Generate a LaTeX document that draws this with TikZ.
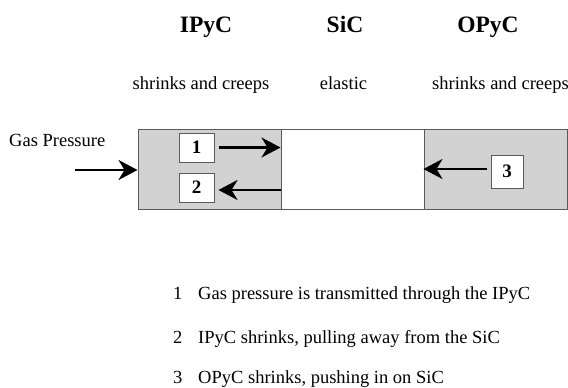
\documentclass[tikz,border=0pt]{standalone}
\usepackage{fontspec}
\setmainfont{Liberation Serif}
\usepackage{tikz}
\usetikzlibrary{arrows.meta}
\definecolor{lygray}{HTML}{D2D2D2}
\definecolor{lyedge}{HTML}{5A5A5A}
\tikzset{
  layer/.style={draw=lyedge,fill=lygray,line width=1pt,minimum width=143pt,
                minimum height=80pt,inner sep=0pt},
  numbox/.style={draw=lyedge,fill=white,line width=1pt,minimum width=35pt,
                 minimum height=29pt,inner sep=0pt,font=\fontsize{19}{22}\selectfont\bfseries},
  push/.style={-{Stealth[length=19pt,width=20pt,inset=6pt]},line width=2.2pt},
  head/.style={font=\fontsize{23.5}{28}\selectfont\bfseries,anchor=base,inner sep=0pt},
  sub/.style={font=\fontsize{18.5}{22}\selectfont,anchor=base,inner sep=0pt},
  legend/.style={font=\fontsize{18.5}{22}\selectfont,anchor=base west,inner sep=0pt},
}

\begin{document}
\begin{tikzpicture}[x=1pt,y=-1pt]
  \useasboundingbox (0,0) rectangle (568,388);
  % layers
  \node[layer] (ipyc) at (209.5,169) {};
  \node[layer,fill=white] (sic) at (352.5,169) {};
  \node[layer] (opyc) at (495.5,169) {};
  % headings
  \node[head] (hipyc) at (206,32) {IPyC};
  \node[head] (hsic) at (345,32) {SiC};
  \node[head] (hopyc) at (488,32) {OPyC};
  \node[sub] (sipyc) at (201,89) {shrinks and creeps};
  \node[sub] (ssic) at (343.5,89) {elastic};
  \node[legend] (sopyc) at (432,89) {shrinks and creeps};
  % gas pressure
  \node[legend] (gas) at (9,146) {Gas Pressure};
  \coordinate (gasin) at (75,170);
  \draw[push] (gasin) -- (gasin -| ipyc.west);
  % numbered loads
  \node[numbox] (n1) at (196.5,147.5) {1};
  \node[numbox] (n2) at (196.5,187.5) {2};
  \node[numbox,minimum width=32pt,minimum height=33pt] (n3) at (507,171.5) {3};
  \draw[push,shorten <=4pt] (n1.east) -- (n1.east -| sic.west);
  \draw[push,shorten >=4pt] ([yshift=-2.5pt]n2.east -| sic.west) -- ([yshift=-2.5pt]n2.east);
  \draw[push,shorten <=4pt] ([yshift=2.5pt]n3.west) -- ([yshift=2.5pt]n3.west -| opyc.west);
  % key
  \node[legend] (k1) at (173,299) {1};
  \node[legend] (t1) at (198,299) {Gas pressure is transmitted through the IPyC};
  \node[legend] (k2) at (173,343) {2};
  \node[legend] (t2) at (198,343) {IPyC shrinks, pulling away from the SiC};
  \node[legend] (k3) at (173,383) {3};
  \node[legend] (t3) at (198,383) {OPyC shrinks, pushing in on SiC};
\end{tikzpicture}
\end{document}
